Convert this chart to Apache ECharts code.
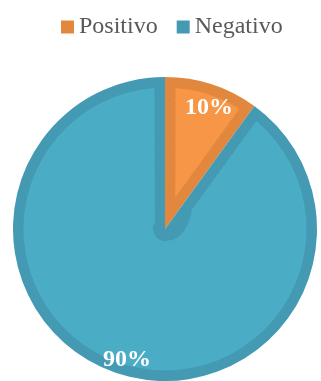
<!DOCTYPE html>
<html>
<head>
<meta charset="utf-8">
<script src="https://cdn.jsdelivr.net/npm/echarts@6/dist/echarts.min.js"></script>
<style>
  html, body { margin: 0; padding: 0; background: #fff; }
  #chart { width: 321px; height: 381px; }
</style>
</head>
<body>
<div id="chart"></div>
<script>
// data
const categories = ['Positivo', 'Negativo'];
const values = [10, 90];

// colours: light fill + darker edge per slice
const fillColors = ['#F79646', '#4BACC6'];
const edgeColors = ['#E1883E', '#4499B3'];

const center = [165, 229];
const outerR = 152;
const edge = 10.5; // width of the darker inner border
const innerR = outerR - edge;

// light fill is built as thin rings so the border keeps about the same width
const rings = [12];
while (rings[rings.length - 1] < innerR) {
  rings.push(Math.min(innerR, rings[rings.length - 1] * 1.07));
}

const chart = echarts.init(document.getElementById('chart'));

function pieData(colors) {
  return categories.map((name, i) => ({
    name: name,
    value: values[i],
    itemStyle: { color: colors[i] }
  }));
}

const base = {
  type: 'pie',
  center: center,
  startAngle: 90,
  silent: true,
  label: { show: false },
  labelLine: { show: false }
};

// darker full disc, shows through as the border
const series = [Object.assign({}, base, {
  radius: [0, outerR],
  data: pieData(edgeColors)
})];

for (let k = 0; k < rings.length - 1; k++) {
  const r0 = k === 0 ? rings[0] : rings[k] - 0.8;
  const r1 = rings[k + 1];
  const mid = (rings[k] + r1) / 2;
  const pad = 2 * Math.asin(Math.min(1, edge / mid)) * 180 / Math.PI;
  series.push(Object.assign({}, base, {
    radius: [r0, r1],
    padAngle: pad,
    data: pieData(fillColors)
  }));
}

// percent labels
series.push(Object.assign({}, base, {
  radius: [118, innerR],
  label: {
    show: true,
    position: 'inside',
    formatter: '{d}%',
    offset: [3, 5],
    color: '#fff',
    fontSize: 24,
    fontWeight: 'bold',
    fontFamily: 'Liberation Serif'
  },
  data: pieData(['rgba(0,0,0,0)', 'rgba(0,0,0,0)'])
}));

chart.setOption({
  animation: false,
  legend: {
    data: categories,
    left: 61,
    top: 14,
    padding: 0,
    icon: 'rect',
    itemWidth: 13,
    itemHeight: 13,
    itemGap: 19,
    selectedMode: false,
    textStyle: {
      fontFamily: 'Liberation Serif',
      fontSize: 24,
      lineHeight: 26,
      color: '#595959'
    }
  },
  series: series
});
</script>
</body>
</html>
